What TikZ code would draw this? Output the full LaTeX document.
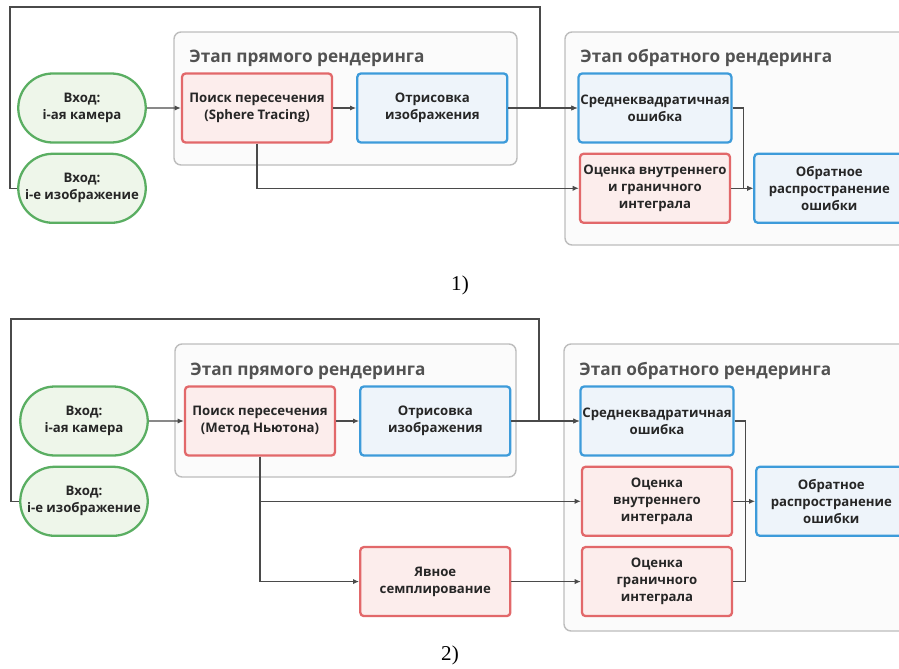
\documentclass[tikz,border=0pt]{standalone}
\usepackage{fontspec}
\setmainfont{Open Sans}
\newfontfamily\capfont{Liberation Serif}
\usepackage{xcolor}
\usetikzlibrary{positioning,shapes.misc,arrows.meta}

\definecolor{grnline}{HTML}{5AAE62}
\definecolor{grnfill}{HTML}{EEF6EA}
\definecolor{redline}{HTML}{E2686A}
\definecolor{redfill}{HTML}{FCEDEC}
\definecolor{bluline}{HTML}{3D9BDA}
\definecolor{blufill}{HTML}{EEF4FA}
\definecolor{stageline}{HTML}{BDBDBD}
\definecolor{stagefill}{HTML}{FBFBFB}
\definecolor{wirecol}{HTML}{4A4A4A}

\tikzset{
  block/.style={rectangle, rounded corners=2pt, line width=1.3pt, minimum width=3cm,
    minimum height=1.38cm, align=center, inner sep=1pt, text=black!85,
    font=\fontsize{7.5}{9.6}\selectfont\bfseries},
  inbox/.style={block, rounded rectangle, sharp corners, draw=grnline, fill=grnfill, minimum width=2.62cm},
  redbox/.style={block, draw=redline, fill=redfill},
  bluebox/.style={block, draw=bluline, fill=blufill},
  stage/.style={draw=stageline, fill=stagefill, line width=0.8pt, rounded corners=4pt},
  stagetitle/.style={anchor=west, inner sep=0pt, text=black!68, font=\fontsize{9.8}{12}\selectfont\bfseries},
  wire/.style={draw=wirecol, line width=0.8pt, -{Latex[length=3.5pt,width=3pt]}},
  plain/.style={draw=wirecol, line width=0.8pt},
}

\begin{document}
\begin{tikzpicture}[node distance=0.18cm]
\useasboundingbox (0,0) rectangle (17.98,-13.36);

% ---------- 1) ----------
\draw[stage] (3.48,-0.64) rectangle (10.34,-3.30);
\draw[stage] (11.30,-0.64) rectangle (18.30,-4.90);
\node[stagetitle] (fwd1) at (3.78,-1.16) {Этап прямого рендеринга};
\node[stagetitle] (bwd1) at (11.60,-1.16) {Этап обратного рендеринга};

\node[inbox] (cam1) at (1.64,-2.16) {Вход:\\i-ая камера};
\node[inbox] (img1) [below=of cam1] {Вход:\\i-е изображение};
\node[redbox] (search1) [right=0.68cm of cam1] {Поиск пересечения\\(Sphere Tracing)};
\node[bluebox] (render1) [right=0.46cm of search1] {Отрисовка\\изображения};
\node[bluebox] (mse1) [right=1.38cm of render1] {Среднеквадратичная\\ошибка};
\node[redbox] (integ1) [below=of mse1] {Оценка внутреннего\\и граничного\\интеграла};
\node[bluebox] (back1) [right=0.44cm of integ1] {Обратное\\распространение\\ошибки};
\coordinate (top1) at (10.80,-0.14);

% edges
\draw[wire] (cam1) -- (search1);
\draw[wire] (search1) -- (render1);
\draw[wire] (render1) -- (mse1);
\draw[wire] (img1.west) -- ++(-0.14,0) |- (top1) |- (mse1.west);
\draw[wire] (search1.south) |- (integ1.west);
\draw[wire] (mse1.east) -- ++(0.22,0) |- (back1.west);
\draw[wire] (integ1) -- (back1);

\node[font=\capfont\fontsize{12}{14}\selectfont] (cap1) at (9.20,-5.70) {1)};

% ---------- 2) ----------
\draw[stage] (3.50,-6.88) rectangle (10.32,-9.54);
\draw[stage] (11.28,-6.88) rectangle (18.30,-12.62);
\node[stagetitle] (fwd2) at (3.80,-7.42) {Этап прямого рендеринга};
\node[stagetitle] (bwd2) at (11.58,-7.42) {Этап обратного рендеринга};

\node[inbox] (cam2) at (1.68,-8.42) {Вход:\\i-ая камера};
\node[inbox] (img2) [below=of cam2] {Вход:\\i-е изображение};
\node[redbox] (search2) [right=0.70cm of cam2] {Поиск пересечения\\(Метод Ньютона)};
\node[bluebox] (render2) [right=0.46cm of search2] {Отрисовка\\изображения};
\node[bluebox] (mse2) [right=1.36cm of render2] {Среднеквадратичная\\ошибка};
\node[redbox] (inner2) [below=of mse2] {Оценка\\внутреннего\\интеграла};
\node[redbox] (bound2) [below=of inner2] {Оценка\\граничного\\интеграла};
\node[redbox] (sample2) at (render2 |- bound2) {Явное\\семплирование};
\node[bluebox] (back2) [right=0.44cm of inner2] {Обратное\\распространение\\ошибки};
\coordinate (top2) at (10.78,-6.38);

% edges
\draw[wire] (cam2) -- (search2);
\draw[wire] (search2) -- (render2);
\draw[wire] (render2) -- (mse2);
\draw[wire] (img2.west) -- ++(-0.16,0) |- (top2) |- (mse2.west);
\draw[wire] (search2.south) |- (inner2.west);
\draw[wire] (search2.south) |- (sample2.west);
\draw[wire] (sample2) -- (bound2);
\draw[plain] (mse2.east) -- ++(0.22,0) |- (bound2.east);
\draw[wire] (inner2) -- (back2);

\node[font=\capfont\fontsize{12}{14}\selectfont] (cap2) at (9.00,-13.10) {2)};
\end{tikzpicture}
\end{document}
